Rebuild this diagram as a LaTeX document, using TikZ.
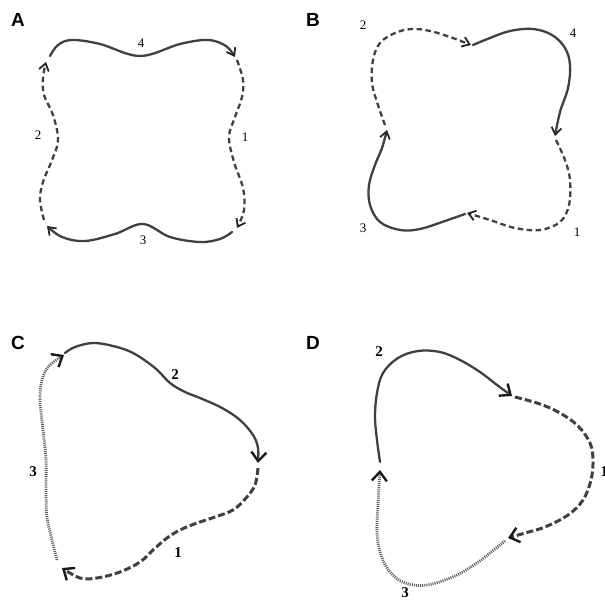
\documentclass[tikz,border=0pt]{standalone}
\usepackage{fontspec}
\setmainfont{Liberation Serif}
\newfontfamily\panelfont{Liberation Sans}
\usetikzlibrary{arrows.meta}
\begin{document}
\begin{tikzpicture}[x=1pt,y=-1pt,
  crv/.style={line width=2.3pt, draw=black!75, line cap=round, line join=round},
  dsh/.style={line width=2.3pt, draw=black!75, dash pattern=on 5.5pt off 3.5pt},
  dshb/.style={line width=3pt, draw=black!75, dash pattern=on 7pt off 3pt},
  dtt/.style={line width=2.8pt, draw=black!65, dash pattern=on 1pt off 1.1pt},
  tipa/.style={-{Straight Barb[length=7pt,width=10pt,line width=1.8pt,color=black!85]}},
  tipc/.style={-{Straight Barb[length=9pt,width=15pt,line width=2.4pt,color=black!90]}},
  panel/.style={font=\panelfont\bfseries\fontsize{19}{19}\selectfont},
  numa/.style={font=\fontsize{13}{13}\selectfont},
  numc/.style={font=\bfseries\fontsize{15}{15}\selectfont}]
\useasboundingbox (0,0) rectangle (605,601);
% ---------- Panel A ----------
\node[panel] (pA) at (18,20) {A};
\draw[crv,tipa] plot[smooth,tension=0.6] coordinates {(50,56) (58,45) (72,40) (100,44) (140,56) (180,44) (208,40) (226,46) (235,57)};
\draw[dsh,tipa] plot[smooth,tension=0.6] coordinates {(237,60) (243,80) (242,97) (235,117) (229,137) (234,162) (243,188) (244,210) (237,228)};
\draw[crv,tipa] plot[smooth,tension=0.6] coordinates {(232,232) (220,239) (200,242) (170,237) (143,224) (115,234) (85,241) (62,237) (47,226)};
\draw[dsh,tipa] plot[smooth,tension=0.6] coordinates {(44,220) (40,200) (43,182) (52,160) (58,140) (53,115) (44,95) (43,78) (46,62)};
\node[numa] (a4) at (141,43) {4};
\node[numa] (a1) at (245,137) {1};
\node[numa] (a3) at (143,240) {3};
\node[numa] (a2) at (38,135) {2};
% ---------- Panel B ----------
\node[panel] (pB) at (313,20) {B};
\draw[dsh,tipa] plot[smooth,tension=0.6] coordinates {(385,125) (378,105) (372,83) (373,60) (380,43) (395,33) (412,29) (430,31) (450,37) (471,45)};
\draw[crv,tipa] plot[smooth,tension=0.6] coordinates {(473,45) (490,38) (510,31) (533,29) (552,35) (565,48) (570,65) (568,88) (560,112) (555,136)};
\draw[dsh,tipa] plot[smooth,tension=0.6] coordinates {(556,140) (565,160) (570,180) (569,205) (560,222) (540,230) (515,228) (490,220) (467,213)};
\draw[crv,tipa] plot[smooth,tension=0.6] coordinates {(465,214) (445,221) (420,229) (400,230) (380,222) (370,205) (369,185) (375,165) (382,148) (387,130)};
\node[numa] (b2) at (363,25) {2};
\node[numa] (b4) at (573,33) {4};
\node[numa] (b3) at (363,228) {3};
\node[numa] (b1) at (577,232) {1};
% ---------- Panel C ----------
\node[panel] (pC) at (18,343) {C};
\draw[crv,tipc] plot[smooth,tension=0.6] coordinates {(65,353) (75,347) (93,343) (113,346) (133,353) (155,368) (170,383) (185,392) (200,398) (222,408) (240,420) (253,435) (258,448) (258,463)};
\draw[dshb,tipc] plot[smooth,tension=0.6] coordinates {(258,468) (255,485) (246,498) (233,510) (215,517) (197,523) (180,530) (167,538) (153,550) (140,562) (120,572) (97,578) (80,578) (62,568)};
\draw[dtt,tipc] plot[smooth,tension=0.6] coordinates {(57,560) (52,540) (47,517) (46,490) (46,460) (43,430) (40,400) (42,380) (49,366) (64,355)};
\node[numc] (c2) at (175,375) {2};
\node[numc] (c1) at (178,553) {1};
\node[numc] (c3) at (33,472) {3};
% ---------- Panel D ----------
\node[panel] (pD) at (313,343) {D};
\draw[crv,tipc] plot[smooth,tension=0.6] coordinates {(380,462) (377,440) (375,417) (377,393) (383,373) (398,358) (418,351) (440,352) (460,360) (480,372) (497,385) (512,396)};
\draw[dshb,tipc] plot[smooth,tension=0.6] coordinates {(515,397) (540,404) (560,413) (578,426) (590,443) (593,460) (591,480) (583,500) (568,515) (545,527) (525,533) (508,538)};
\draw[dtt,tipc] plot[smooth,tension=0.6] coordinates {(505,541) (490,553) (477,563) (455,576) (427,585) (405,583) (390,572) (381,555) (377,533) (378,505) (380,470)};
\node[numc] (d2) at (379,352) {2};
\node[numc,anchor=west] (d1) at (597,472) {1};
\node[numc] (d3) at (405,593) {3};
\end{tikzpicture}
\end{document}
